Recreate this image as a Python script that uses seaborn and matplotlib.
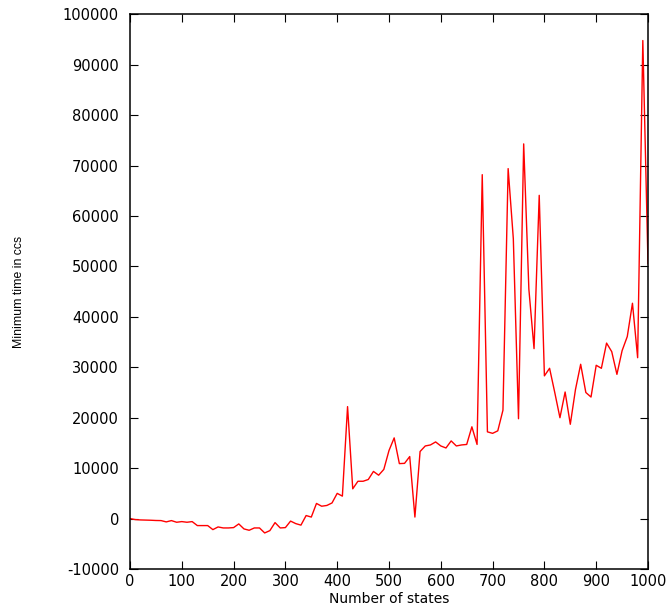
import matplotlib
matplotlib.use("Agg")
import matplotlib.pyplot as plt
import seaborn as sns
import pandas as pd

states = [0, 10, 20, 30, 40, 50, 60, 70, 80, 90,
          100, 110, 120, 130, 140, 150, 160, 170, 180, 190,
          200, 210, 220, 230, 240, 250, 260, 270, 280, 290,
          300, 310, 320, 330, 340, 350, 360, 370, 380, 390,
          400, 410, 420, 430, 440, 450, 460, 470, 480, 490,
          500, 510, 520, 530, 540, 550, 560, 570, 580, 590,
          600, 610, 620, 630, 640, 650, 660, 670, 680, 690,
          700, 710, 720, 730, 740, 750, 760, 770, 780, 790,
          800, 810, 820, 830, 840, 850, 860, 870, 880, 890,
          900, 910, 920, 930, 940, 950, 960, 970, 980, 990,
          1000]

min_time = [0, -200, -270, -300, -330, -380, -400, -660, -400, -730,
            -600, -730, -600, -1390, -1390, -1390, -2190, -1660, -1860, -1860,
            -1790, -1060, -2050, -2320, -1860, -1860, -2850, -2390, -800, -1860,
            -1790, -500, -1000, -1300, 600, 300, 3000, 2450, 2600, 3100,
            5000, 4450, 22200, 5900, 7400, 7400, 7750, 9350, 8600, 9750,
            13500, 16000, 10900, 10950, 12300, 300, 13300, 14400, 14600, 15200,
            14400, 14000, 15400, 14400, 14600, 14700, 18200, 14700, 68200, 17200,
            16900, 17400, 21500, 69400, 55500, 19800, 74300, 45500, 33700, 64100,
            28300, 29800, 25000, 20000, 25100, 18700, 25600, 30600, 25000, 24100,
            30400, 29800, 34800, 33100, 28600, 33300, 36100, 42700, 31900, 94800,
            50500]

x_ticks = [0, 100, 200, 300, 400, 500, 600, 700, 800, 900, 1000]
y_ticks = [-10000, 0, 10000, 20000, 30000, 40000, 50000, 60000, 70000, 80000, 90000, 100000]

df = pd.DataFrame({"states": states, "time": min_time})

sns.set_style("ticks")
plt.rcParams['font.family'] = ['DejaVu Sans']

fig = plt.figure(figsize=(6.72, 6.06), dpi=100)
ax = fig.add_axes([130/672, 37/606, 518/672, 554.7/606])

sns.lineplot(data=df, x="states", y="time", color="#ff0000", linewidth=1.0, ax=ax)

ax.set_xlim(0, 1000)
ax.set_ylim(-10000, 100000)
ax.set_xticks(x_ticks)
ax.set_yticks(y_ticks)
ax.set_xticklabels([str(v) for v in x_ticks])
ax.set_yticklabels([str(v) for v in y_ticks])

for s in ax.spines.values():
    s.set_visible(True)
    s.set_linewidth(1.1)
    s.set_color("black")

ax.tick_params(axis="both", which="major", direction="in", length=6, width=0.8,
               top=True, right=True, labelsize=10.5, colors="black")
ax.tick_params(axis="x", pad=3.5)
ax.tick_params(axis="y", pad=8)

ax.set_xlabel("Number of states", fontsize=10, color="black")
ax.xaxis.set_label_coords(0.5, -0.041)
ax.set_ylabel("Minimum time in ccs", fontsize=8.8, color="black",
              family=['Liberation Sans Narrow', 'Liberation Sans', 'DejaVu Sans'])
ax.yaxis.set_label_coords(-0.203, 0.5)

fig.savefig("out.png", dpi=100)
